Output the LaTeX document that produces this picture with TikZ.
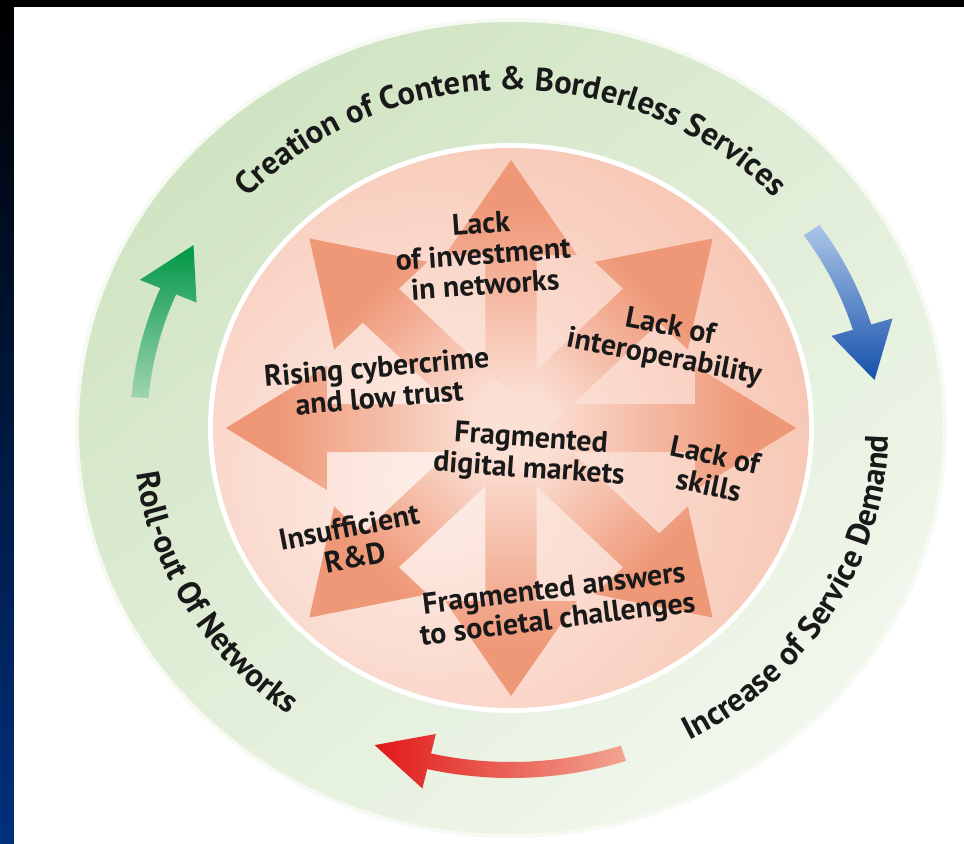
\documentclass[tikz,border=0pt]{standalone}
\usepackage{fontspec}
\setmainfont{PT Sans}
\usetikzlibrary{decorations.text}
\definecolor{ringA}{RGB}{208,228,194}
\definecolor{ringB}{RGB}{241,247,237}
\definecolor{diskEdge}{RGB}{245,182,158}
\definecolor{diskMid}{RGB}{253,238,232}
\definecolor{arrHead}{RGB}{239,152,120}
\definecolor{arrTail}{RGB}{251,224,213}
\definecolor{txt}{RGB}{25,25,25}
\definecolor{gDark}{RGB}{0,150,70}
\definecolor{gLight}{RGB}{160,212,178}
\definecolor{bDark}{RGB}{20,80,170}
\definecolor{bLight}{RGB}{172,198,232}
\definecolor{rDark}{RGB}{225,25,25}
\definecolor{rLight}{RGB}{242,165,145}
\definecolor{navy}{RGB}{0,48,125}
\definecolor{navyMid}{RGB}{0,18,55}
\pgfdeclarehorizontalshading{arrowfade}{100bp}{color(0bp)=(arrTail); color(30bp)=(arrTail); color(66bp)=(arrHead); color(100bp)=(arrHead)}
\newcommand{\innerfont}{\fontsize{17}{17.5}\selectfont\bfseries}
\newcommand{\ringfont}{\fontsize{18.5}{20}\selectfont\bfseries}
\tikzset{
  inner/.style={font=\innerfont, text=txt, align=center, inner sep=0pt},
  ringtext/.style={decorate, decoration={text along path, text align=center, text color=txt}}
}
\begin{document}
\begin{tikzpicture}[x=0.02cm,y=0.02cm]
\useasboundingbox (-511,-415) rectangle (453,428);
% background
\fill[white] (-511,-415) rectangle (453,428);
\fill[black] (-511,421) rectangle (453,428);
\shade[top color=black, middle color=navyMid, bottom color=navy] (-511,-415) rectangle (-497,421);
% outer ring
\fill[ringA!20] (0,0) ellipse [x radius=436, y radius=410];
\shade[top color=ringA, bottom color=ringB, shading angle=40] (0,0) ellipse [x radius=432, y radius=406];
\fill[white] (0,0) ellipse [x radius=303, y radius=285];
% inner disk
\begin{scope}
  \clip (0,0) ellipse [x radius=298, y radius=280];
  \shade[inner color=diskMid, outer color=diskEdge] (-81,-52) circle (560);
\end{scope}
% inner radiating arrows
\foreach \ang in {0,45,...,315}{
  \shade[shading=arrowfade, shading angle=\ang]
   ({1.064*(-24*sin(\ang))},{24*cos(\ang)})
   -- ({1.064*(173*cos(\ang)-24*sin(\ang))},{173*sin(\ang)+24*cos(\ang)})
   -- ({1.064*(173*cos(\ang)-62*sin(\ang))},{173*sin(\ang)+62*cos(\ang)})
   -- ({1.064*268*cos(\ang)},{268*sin(\ang)})
   -- ({1.064*(173*cos(\ang)+62*sin(\ang))},{173*sin(\ang)-62*cos(\ang)})
   -- ({1.064*(173*cos(\ang)+24*sin(\ang))},{173*sin(\ang)-24*cos(\ang)})
   -- ({1.064*(24*sin(\ang))},{-24*cos(\ang)}) -- cycle;
}
% ring arrows (clockwise cycle)
\shade[top color=gDark, bottom color=gLight]
  (175:{1.064*358} and 358) arc[start angle=175, end angle=157, x radius={1.064*358}, y radius=358]
  -- (157:{1.064*379} and 379) -- (148.5:{1.064*350} and 350) -- (157:{1.064*321} and 321)
  -- (157:{1.064*342} and 342) arc[start angle=157, end angle=175, x radius={1.064*342}, y radius=342] -- cycle;
\shade[top color=bLight, bottom color=bDark]
  (35:{1.064*354} and 354) arc[start angle=35, end angle=17, x radius={1.064*354}, y radius=354]
  -- (17:{1.064*375} and 375) -- (8:{1.064*345} and 345) -- (17:{1.064*315} and 315)
  -- (17:{1.064*336} and 336) arc[start angle=17, end angle=35, x radius={1.064*336}, y radius=336] -- cycle;
\shade[left color=rDark, right color=rLight]
  (-72:{1.064*350} and 350) arc[start angle=-72, end angle=-103, x radius={1.064*350}, y radius=350]
  -- (-103:{1.064*370} and 370) -- (-112:{1.064*342} and 342) -- (-103:{1.064*314} and 314)
  -- (-103:{1.064*334} and 334) arc[start angle=-103, end angle=-72, x radius={1.064*334}, y radius=334] -- cycle;
% ring texts
\path[ringtext, decoration={text={|\ringfont|Creation of Content {\&} Borderless Services}}]
  (155:{1.064*338} and 338) arc[start angle=155, end angle=25, x radius={1.064*338}, y radius=338];
\path[ringtext, decoration={text={|\ringfont|Increase of Service Demand}}]
  (-80:{1.064*355} and 355) arc[start angle=-80, end angle=18, x radius={1.064*355}, y radius=355];
\path[ringtext, decoration={text={|\ringfont|Roll-out Of Networks}}]
  (162:{1.064*355} and 355) arc[start angle=162, end angle=258, x radius={1.064*355}, y radius=355];
% inner labels
\node[inner, rotate=4]   (invest)   at (-28,174)  {Lack\\of investment\\in networks};
\node[inner, rotate=-11] (interop)  at (156,85)   {Lack of\\interoperability};
\node[inner, rotate=5]   (cyber)    at (-133,46)  {Rising cybercrime\\and low trust};
\node[inner, rotate=-4]  (frag)     at (19,-27)   {Fragmented\\digital markets};
\node[inner, rotate=-12] (skills)   at (201,-42)  {Lack of\\skills};
\node[inner, rotate=11]  (rd)       at (-159,-114){Insufficient\\R\&D};
\node[inner, rotate=7]   (societal) at (45,-178)  {Fragmented answers\\to societal challenges};
\end{tikzpicture}
\end{document}
